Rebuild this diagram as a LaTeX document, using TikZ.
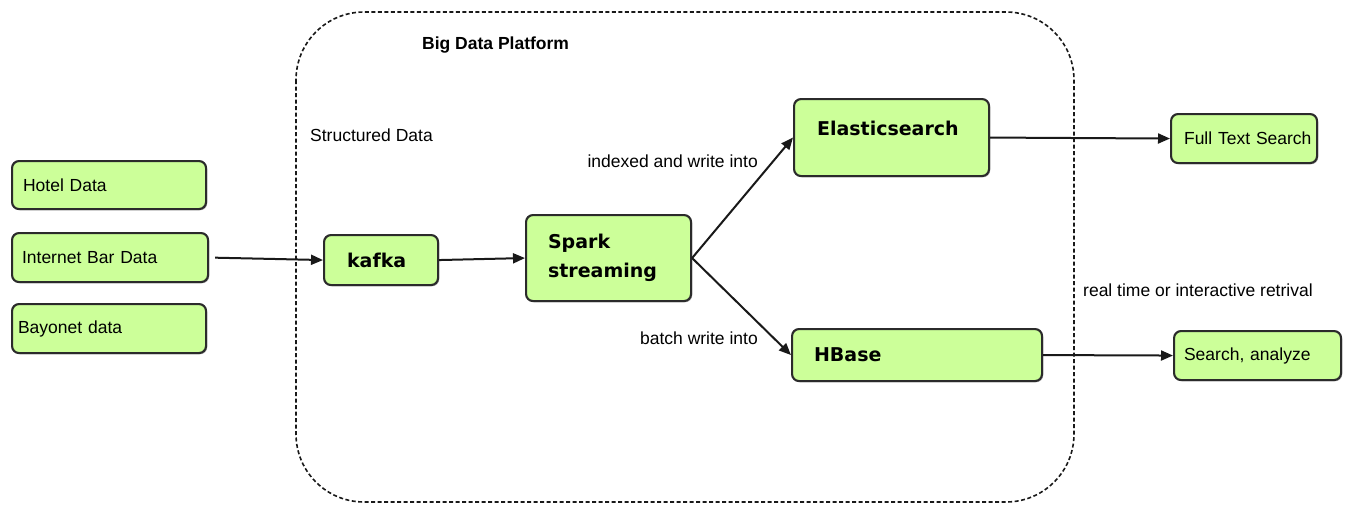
\documentclass[tikz,border=0pt]{standalone}
\usepackage{fontspec}
\setmainfont{Liberation Sans}
\newfontfamily\dvs{DejaVu Sans}
\usetikzlibrary{arrows.meta,shadows}
\definecolor{boxgreen}{HTML}{CCFF99}
\definecolor{edgegray}{HTML}{2B2B2B}
\begin{document}
\begin{tikzpicture}[x=1pt,y=-1pt,
  box/.style={draw=edgegray, line width=2.1pt, fill=boxgreen, rounded corners=7pt,
    anchor=north west, align=left, inner ysep=0pt,
    drop shadow={shadow xshift=1.2pt,shadow yshift=-1.2pt,fill=black!45,opacity=0.6},
    font=\fontsize{17.5}{20}\selectfont},
  bbox/.style={box, font=\dvs\bfseries\fontsize{19}{29}\selectfont},
  lbl/.style={font=\fontsize{17.5}{20}\selectfont, inner sep=0pt},
  arr/.style={draw=black!90, line width=2pt, -{Triangle[length=12pt,width=10pt]}}]
\useasboundingbox (0,0) rectangle (1355,522);

% container
\draw[black!90, line width=1.6pt, dash pattern=on 4pt off 2.5pt, rounded corners=68pt]
  (296,12) rectangle (1074,502);
\node[lbl, font=\bfseries\fontsize{17.5}{20}\selectfont, anchor=west] (title) at (422,45) {Big Data Platform};
\node[lbl, anchor=west] (sd) at (310,135) {Structured Data};

% sources
\node[box, minimum width=194pt, minimum height=48pt, inner xsep=11pt, text width=172pt] (hotel) at (11,160) {Hotel Data};
\node[box, minimum width=196pt, minimum height=49pt, inner xsep=10pt, text width=176pt] (ib) at (11,232) {Internet Bar Data};
\node[box, minimum width=194pt, minimum height=49pt, inner xsep=6pt, text width=182pt] (bay) at (11,303) {Bayonet data};

% platform
\node[bbox, minimum width=114pt, minimum height=50pt, inner xsep=23pt, text width=68pt] (kafka) at (323,234) {kafka};
\node[bbox, minimum width=165pt, minimum height=86pt, inner xsep=22pt, text width=121pt] (spark) at (525,214) {Spark\\streaming};
\node[bbox, minimum width=195pt, minimum height=77pt, inner xsep=23pt, text width=149pt, text height=14pt, text depth=19pt] (es) at (793,98) {Elasticsearch};
\node[bbox, minimum width=250pt, minimum height=52pt, inner xsep=22pt, text width=206pt] (hb) at (791,328) {HBase};

% outputs
\node[box, minimum width=146pt, minimum height=49pt, inner xsep=13pt, text width=120pt] (fts) at (1170,113) {\mbox{Full Text Search}};
\node[box, minimum width=167pt, minimum height=49pt, inner xsep=10pt, text width=147pt] (sa) at (1173,330) {\mbox{Search, analyze}};

% labels
\node[lbl, anchor=east] (l1) at (758,161) {indexed and write into};
\node[lbl, anchor=east] (l2) at (758,338) {batch write into};
\node[lbl, anchor=west] (l3) at (1083,290) {real time or interactive retrival};

% connectors
\draw[arr, shorten <=6pt] (ib.east) -- (kafka.west);
\draw[arr] (kafka.east) -- (spark.west);
\draw[arr] (spark.east) -- (es.west);
\draw[arr] (spark.east) -- (hb.west);
\draw[arr] (es.east) -- (fts.west);
\draw[arr] (hb.east) -- (sa.west);
\end{tikzpicture}
\end{document}
